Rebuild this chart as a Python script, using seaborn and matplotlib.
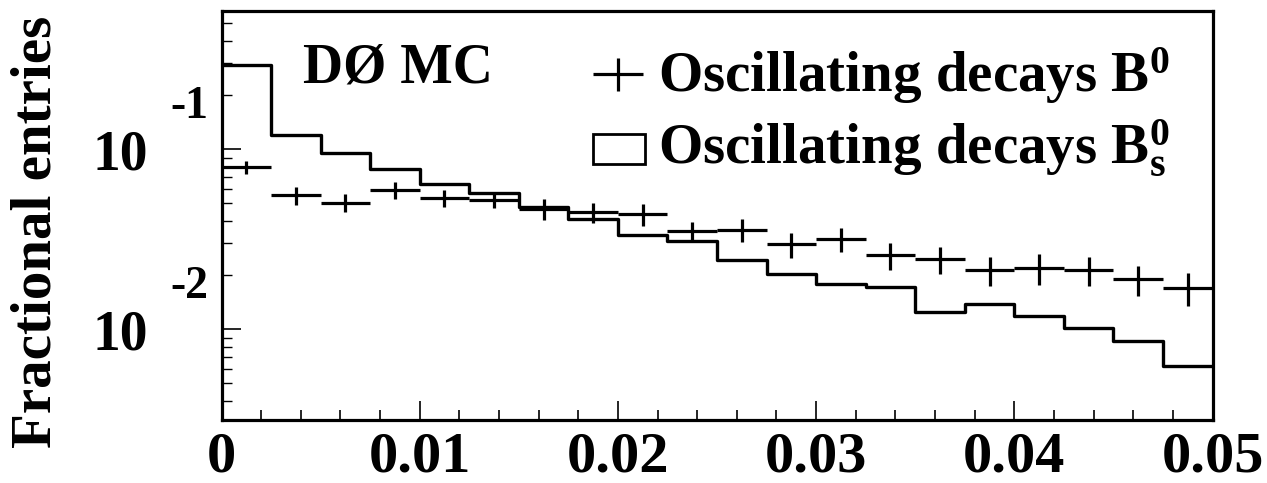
import numpy as np
import pandas as pd
import matplotlib
matplotlib.use("Agg")
import matplotlib.pyplot as plt
import seaborn as sns
from matplotlib.ticker import MultipleLocator, LogLocator, FixedLocator, FixedFormatter, NullFormatter
from matplotlib.transforms import blended_transform_factory
from matplotlib.patches import Rectangle

# ---------------- data ----------------
bin_edges = [0.0, 0.0025, 0.005, 0.0075, 0.01, 0.0125, 0.015, 0.0175, 0.02, 0.0225,
             0.025, 0.0275, 0.03, 0.0325, 0.035, 0.0375, 0.04, 0.0425, 0.045, 0.0475, 0.05]

# Oscillating decays Bs0 (histogram)
bs_frac = [0.293, 0.1196, 0.0959, 0.0774, 0.0643, 0.0572, 0.0476, 0.0409, 0.0336, 0.0308,
           0.0242, 0.0204, 0.0179, 0.0172, 0.0124, 0.0138, 0.0119, 0.0102, 0.00858, 0.00623]

# Oscillating decays B0 (points with errors)
b0_frac = [0.0797, 0.0555, 0.0506, 0.0592, 0.0536, 0.0521, 0.0467, 0.0447, 0.0436, 0.0352,
           0.0358, 0.0296, 0.0318, 0.0257, 0.0245, 0.0213, 0.0219, 0.0213, 0.0190, 0.0170]
b0_err = [0.0067, 0.0065, 0.0060, 0.0064, 0.0060, 0.0052, 0.0064, 0.0056, 0.0060, 0.0044,
          0.0053, 0.0048, 0.0049, 0.0043, 0.0042, 0.0040, 0.0042, 0.0040, 0.0036, 0.0036]

x_ticks = [0.0, 0.01, 0.02, 0.03, 0.04, 0.05]
x_tick_labels = ["0", "0.01", "0.02", "0.03", "0.04", "0.05"]
y_major = [0.01, 0.1]
y_exponents = ["-2", "-1"]

# ---------------- style ----------------
sns.set_style("white")
plt.rcParams["font.family"] = ["Liberation Serif", "DejaVu Serif"]
plt.rcParams["font.weight"] = "bold"
plt.rcParams["mathtext.fontset"] = "custom"
plt.rcParams["mathtext.rm"] = "Liberation Serif:bold"
plt.rcParams["mathtext.bf"] = "Liberation Serif:bold"
plt.rcParams["mathtext.it"] = "Liberation Serif:bold"
for key in ["text.color", "axes.labelcolor", "xtick.color", "ytick.color", "axes.edgecolor"]:
    plt.rcParams[key] = "black"

W, H = 1267, 483
fig = plt.figure(figsize=(W / 100, H / 100), dpi=100)
fig.patch.set_facecolor("white")
ax_l, ax_r, ax_t, ax_b = 221.5, 1212.5, 11, 420
ax = fig.add_axes([ax_l / W, (H - ax_b) / H, (ax_r - ax_l) / W, (ax_b - ax_t) / H])

edges = np.array(bin_edges)
centers = (edges[:-1] + edges[1:]) / 2
half_w = np.diff(edges) / 2

df_bs = pd.DataFrame({"x": centers, "w": bs_frac})

# Bs histogram (step outline)
sns.histplot(data=df_bs, x="x", weights="w", bins=list(bin_edges), element="step",
             fill=False, color="black", linewidth=2.4, ax=ax)

# B0 crosses
ax.errorbar(centers, b0_frac, xerr=half_w, yerr=b0_err, fmt="none",
            ecolor="black", elinewidth=2.3, capsize=0)

ax.set_yscale("log")
ax.set_xlim(0, 0.05)
ax.set_ylim(0.003133, 0.5866)

# spines
for s in ax.spines.values():
    s.set_linewidth(2.3)
    s.set_color("black")
    s.set_visible(True)

# x ticks
ax.xaxis.set_major_locator(FixedLocator(x_ticks))
ax.xaxis.set_major_formatter(FixedFormatter(x_tick_labels))
ax.xaxis.set_minor_locator(MultipleLocator(0.002))
ax.tick_params(axis="x", which="major", direction="in", length=14, width=1.2,
               labelsize=42, pad=8, bottom=True, top=False, colors="black")
ax.tick_params(axis="x", which="minor", direction="in", length=7, width=1.2,
               bottom=True, top=False, colors="black")

# y ticks
ax.yaxis.set_major_locator(FixedLocator(y_major))
ax.yaxis.set_major_formatter(FixedFormatter(["10"] * len(y_major)))
ax.yaxis.set_minor_locator(LogLocator(base=10, subs=[2, 3, 4, 5, 6, 7, 8, 9], numticks=20))
ax.yaxis.set_minor_formatter(NullFormatter())
ax.tick_params(axis="y", which="major", direction="in", length=13.5, width=1.2,
               labelsize=40, pad=53, left=True, right=False, colors="black")
ax.tick_params(axis="y", which="minor", direction="in", length=7, width=1.0,
               left=True, right=False, colors="black")
for lab in ax.get_xticklabels() + ax.get_yticklabels():
    lab.set_fontweight("bold")

# exponents of the y tick labels
trans = blended_transform_factory(ax.transAxes, ax.transData)
for yv, ex in zip(y_major, y_exponents):
    ax.text((170 - ax_l) / (ax_r - ax_l), yv * 1.72, ex, transform=trans,
            ha="left", va="center", fontsize=33, fontweight="bold", clip_on=False)

ax.set_xlabel("")
ax.set_ylabel("")
fig.text(37 / W, 1 - 232 / H, "Fractional entries", rotation=90, ha="center",
         va="center", fontsize=41, fontweight="bold")


def fx(px):
    return (px - ax_l) / (ax_r - ax_l)


def fy(py):
    return (ax_b - py) / (ax_b - ax_t)


# DØ MC label
ax.text(fx(303), fy(82), "DØ MC", transform=ax.transAxes, ha="left",
        va="baseline", fontsize=40, fontweight="bold")

# legend (drawn manually, ROOT style)
ax.plot([fx(593), fx(643)], [fy(74), fy(74)], transform=ax.transAxes,
        color="black", lw=2.3, solid_capstyle="butt")
ax.plot([fx(618), fx(618)], [fy(58), fy(91)], transform=ax.transAxes,
        color="black", lw=2.3, solid_capstyle="butt")
ax.add_patch(Rectangle((fx(593), fy(164)), fx(645) - fx(593), fy(134) - fy(164),
                       transform=ax.transAxes, facecolor="white", edgecolor="black",
                       lw=2.0))
ax.text(fx(658), fy(92), "Oscillating decays $\\mathrm{B}^{0}$", transform=ax.transAxes,
        ha="left", va="baseline", fontsize=41, fontweight="bold")
ax.text(fx(658), fy(164), "Oscillating decays $\\mathrm{B}_{\\mathrm{s}}^{0}$",
        transform=ax.transAxes, ha="left", va="baseline", fontsize=41, fontweight="bold")

fig.savefig("out.png", dpi=100, facecolor="white")
